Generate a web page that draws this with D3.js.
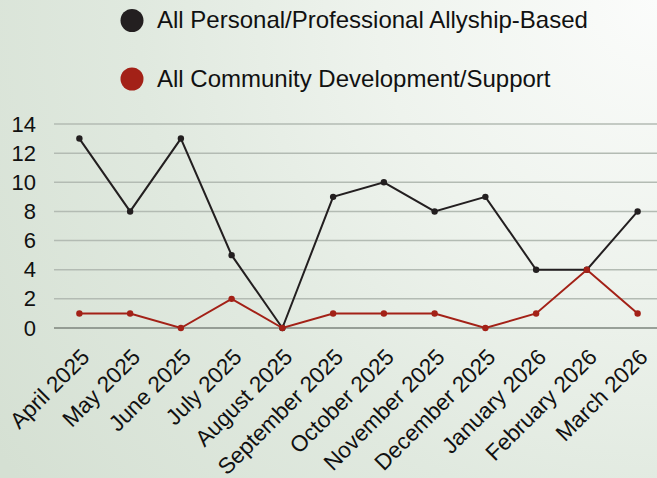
<!DOCTYPE html>
<html>
<head>
<meta charset="utf-8">
<script src="https://cdn.jsdelivr.net/npm/d3@7"></script>
<style>
  html, body { margin: 0; padding: 0; }
  svg { display: block; font-family: "Liberation Sans", Arial, sans-serif; }
</style>
</head>
<body>
<svg id="chart" width="657" height="478"></svg>
<script>
const categories = ["April 2025","May 2025","June 2025","July 2025","August 2025","September 2025","October 2025","November 2025","December 2025","January 2026","February 2026","March 2026"];
const seriesNames = ["All Personal/Professional Allyship-Based","All Community Development/Support"];
const allyshipValues = [13,8,13,5,0,9,10,8,9,4,4,8];
const communityValues = [1,1,0,2,0,1,1,1,0,1,4,1];
const yTicks = [0,2,4,6,8,10,12,14];
const colors = ["#231f20", "#a32117"];

const W = 657, H = 478;
const svg = d3.select("#chart");

// background
const defs = svg.append("defs");
const grad = defs.append("radialGradient").attr("id","bg")
  .attr("gradientUnits","userSpaceOnUse").attr("cx",W).attr("cy",0).attr("r",800);
grad.append("stop").attr("offset","0").attr("stop-color","#fbfcfb");
grad.append("stop").attr("offset","0.35").attr("stop-color","#eef3ed");
grad.append("stop").attr("offset","0.65").attr("stop-color","#e0e9df");
grad.append("stop").attr("offset","1").attr("stop-color","#d5e0d3");
svg.append("rect").attr("width",W).attr("height",H).attr("fill","url(#bg)");

const x = d3.scaleBand().domain(categories).range([54, 663]);
const y = d3.scaleLinear().domain([0,14]).range([328, 124]);

// gridlines
svg.append("g").selectAll("line").data(yTicks).join("line")
  .attr("x1",54).attr("x2",W)
  .attr("y1",d=>y(d)).attr("y2",d=>y(d))
  .attr("stroke",d=> d===0 ? "#7d857d" : "#b3bbb3")
  .attr("stroke-width",1.5);

// y axis labels
const yAxis = d3.axisLeft(y).tickValues(yTicks).tickSize(0).tickPadding(0);
const yg = svg.append("g").attr("transform","translate(36,0)").call(yAxis);
yg.select(".domain").remove();
yg.selectAll("text").attr("font-size",22).attr("fill","#111")
  .attr("font-family","'Liberation Sans', Arial, sans-serif");

// x labels
const xAxis = d3.axisBottom(x).tickSize(0).tickPadding(0);
const xg = svg.append("g").attr("transform","translate(0,347)").call(xAxis);
xg.select(".domain").remove();
xg.selectAll(".tick text")
  .attr("font-size",22.5).attr("fill","#111")
  .attr("font-family","'Liberation Sans', Arial, sans-serif")
  .attr("text-anchor","end")
  .attr("x",0).attr("y",0).attr("dy","0.72em")
  .attr("transform","rotate(-45)");

// lines
const cx = d => x(d) + x.bandwidth()/2;
const series = [allyshipValues, communityValues];
series.forEach((vals,i) => {
  const line = d3.line().x((d,j)=>cx(categories[j])).y(d=>y(d));
  svg.append("path").datum(vals).attr("d",line)
    .attr("fill","none").attr("stroke",colors[i]).attr("stroke-width",2);
  svg.append("g").selectAll("circle").data(vals).join("circle")
    .attr("cx",(d,j)=>cx(categories[j])).attr("cy",d=>y(d)).attr("r",3.2)
    .attr("fill",colors[i]);
});

// legend
const legendY = [20.5, 79];
const lg = svg.append("g");
seriesNames.forEach((name,i) => {
  lg.append("circle").attr("cx",132).attr("cy",legendY[i]).attr("r",11.5).attr("fill",colors[i]);
  lg.append("text").attr("x",157).attr("y",legendY[i]+7.5)
    .attr("font-size",24).attr("fill","#111").text(name);
});
</script>
</body>
</html>
